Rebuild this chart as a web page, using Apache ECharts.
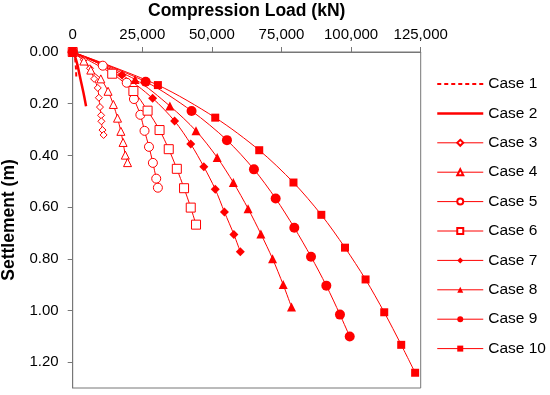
<!DOCTYPE html>
<html>
<head>
<meta charset="utf-8">
<script src="https://cdn.jsdelivr.net/npm/echarts@6/dist/echarts.min.js"></script>
<style>html,body{margin:0;padding:0;background:#fff}#c{width:550px;height:395px}</style>
</head>
<body>
<div id="c"></div>
<script>
var seriesNames = ['Case 1','Case 2','Case 3','Case 4','Case 5','Case 6','Case 7','Case 8','Case 9','Case 10'];
var xTicks = [0, 25000, 50000, 75000, 100000, 125000];
var yTicks = [0, 0.2, 0.4, 0.6, 0.8, 1.0, 1.2];
// [load kN, settlement m]
var case1 = [[0,0],[700,0.015],[1000,0.04],[1200,0.07],[1300,0.10]];
var case2 = [[0,0],[900,0.02],[1700,0.05],[2500,0.09],[3300,0.13],[4100,0.17],[4800,0.21]];
var case3 = [[0,0],[4000,0.03],[6200,0.063],[7700,0.104],[9000,0.139],[9400,0.177],[9800,0.213],[10200,0.245],[10300,0.268],[10700,0.302],[11100,0.321]];
var case4 = [[0,0],[4000,0.035],[6500,0.07],[10100,0.104],[12700,0.152],[14600,0.203],[16100,0.256],[17300,0.307],[18100,0.350],[18900,0.399],[19700,0.428]];
var case5 = [[0,0],[10800,0.053],[19400,0.119],[22000,0.182],[24300,0.243],[25800,0.305],[27400,0.367],[28800,0.429],[30000,0.490],[30600,0.525]];
var case6 = [[0,0],[14200,0.084],[21800,0.151],[26900,0.227],[31200,0.302],[34500,0.376],[37400,0.452],[40000,0.527],[42400,0.602],[44300,0.668]];
var case7 = [[0,0],[17700,0.089],[28700,0.179],[36600,0.267],[42400,0.356],[47100,0.444],[51200,0.531],[54500,0.619],[57900,0.706],[60200,0.773]];
var case8 = [[0,0],[22400,0.106],[34900,0.209],[44300,0.305],[51900,0.408],[57700,0.505],[63000,0.606],[67600,0.704],[71800,0.800],[75600,0.900],[78600,0.987]];
var case9 = [[0,0],[26200,0.115],[42700,0.228],[55400,0.341],[65100,0.454],[72900,0.567],[79600,0.680],[85600,0.792],[91100,0.904],[96000,1.016],[99500,1.101]];
var case10 = [[0,0],[30600,0.128],[51200,0.254],[67000,0.380],[79300,0.505],[89300,0.630],[97800,0.757],[105200,0.880],[111900,1.007],[118000,1.133],[123000,1.241]];

var RED = '#ff0000';
var FONT = 'Liberation Sans, Arial, sans-serif';

function mk(name, data, symbol, size, filled) {
  return {
    name: name, type: 'line', data: data, smooth: 0.3,
    symbol: symbol, symbolSize: size, showSymbol: true,
    lineStyle: { color: RED, width: 1 },
    itemStyle: filled ? { color: RED, borderColor: RED, borderWidth: 0 } : { color: '#fff', borderColor: RED, borderWidth: 1 },
    emphasis: { disabled: true }, z: 3
  };
}
var series = [
  { name: 'Case 1', type: 'line', data: case1, smooth: 0.3, symbol: 'none', showSymbol: false,
    lineStyle: { color: RED, width: 2, type: [4, 3] }, itemStyle: { color: RED }, emphasis: { disabled: true } },
  { name: 'Case 2', type: 'line', data: case2, smooth: 0.3, symbol: 'none', showSymbol: false,
    lineStyle: { color: RED, width: 2.5 }, itemStyle: { color: RED }, emphasis: { disabled: true } },
  mk('Case 3', case3, 'diamond', [7, 7], false),
  mk('Case 4', case4, 'triangle', 8, false),
  mk('Case 5', case5, 'circle', 9, false),
  mk('Case 6', case6, 'rect', 9, false),
  mk('Case 7', case7, 'diamond', [9, 9], true),
  mk('Case 8', case8, 'triangle', 9, true),
  mk('Case 9', case9, 'circle', 10, true),
  mk('Case 10', case10, 'rect', 8, true)
];

var legendData = seriesNames.map(function (n, i) {
  if (i === 0) return { name: n, itemStyle: { opacity: 0 }, lineStyle: { width: 2, type: [4, 3], color: RED } };
  if (i === 1) return { name: n, itemStyle: { opacity: 0 }, lineStyle: { width: 2.5, color: RED } };
  return { name: n, lineStyle: { width: 1, color: RED } };
});

var chart = echarts.init(document.getElementById('c'), null, { renderer: 'canvas' });
chart.setOption({
  animation: false,
  backgroundColor: '#fff',
  textStyle: { fontFamily: FONT },
  grid: { left: 72.7, right: 129.3, top: 52, bottom: 7, containLabel: false, outerBoundsMode: 'none',
    show: true, borderColor: '#777', borderWidth: 1, backgroundColor: 'transparent' },
  legend: {
    orient: 'vertical', left: 436, top: 76, padding: 0, data: legendData,
    itemWidth: 46, itemHeight: 7.5, itemGap: 13.4,
    textStyle: { fontFamily: FONT, fontSize: 15.5, color: '#000', lineHeight: 15.4 },
    inactiveColor: '#ccc'
  },
  xAxis: {
    type: 'value', position: 'top', min: 0, max: 125000, interval: 25000,
    name: 'Compression Load (kN)', nameLocation: 'middle', nameGap: 32,
    nameTextStyle: { fontFamily: FONT, fontSize: 17.5, fontWeight: 'bold', color: '#000' },
    axisLine: { show: true, lineStyle: { color: '#777', width: 1 } },
    axisTick: { show: true, inside: false, length: 5, lineStyle: { color: '#777' }, customValues: xTicks },
    axisLabel: { fontFamily: FONT, fontSize: 15, color: '#000', margin: 10, customValues: xTicks,
      formatter: function (v) { return v.toLocaleString('en-US'); } },
    splitLine: { show: false }
  },
  yAxis: {
    type: 'value', inverse: true, min: 0, max: 1.3, interval: 0.2,
    name: 'Settlement (m)', nameLocation: 'middle', nameGap: 49, nameRotate: 90,
    nameTextStyle: { fontFamily: FONT, fontSize: 17.5, fontWeight: 'bold', color: '#000' },
    axisLine: { show: true, lineStyle: { color: '#777', width: 1 } },
    axisTick: { show: true, inside: false, length: 5, lineStyle: { color: '#777' }, customValues: yTicks },
    axisLabel: { fontFamily: FONT, fontSize: 15, color: '#000', margin: 14, customValues: yTicks,
      formatter: function (v) { return v.toFixed(2); } },
    splitLine: { show: false }
  },
  series: series
});
</script>
</body>
</html>
